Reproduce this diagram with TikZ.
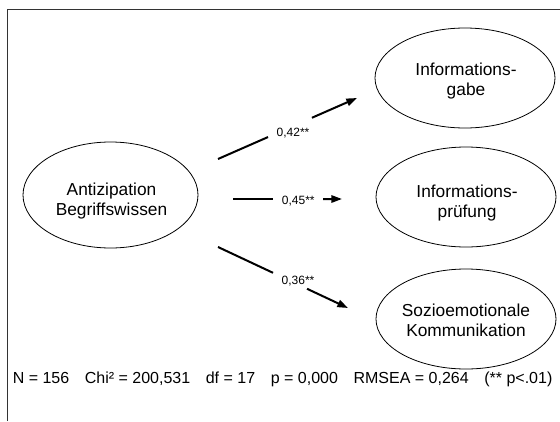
\documentclass[tikz,border=0pt]{standalone}
\usepackage{fontspec}
\setmainfont{Liberation Sans}
\usetikzlibrary{shapes.geometric,arrows.meta,calc}
\begin{document}
\begin{tikzpicture}[x=0.75pt,y=-0.75pt,
  frameline/.style={draw=black!80, line width=0.7pt},
  factor/.style={draw, ellipse, inner sep=0pt, line width=0.6pt},
  leftfactor/.style={factor, minimum width=131.25pt, minimum height=79.5pt},
  rightfactor/.style={factor, minimum width=135pt, minimum height=75pt},
  factortext/.style={align=center, inner sep=0pt, font=\fontsize{13}{15}\selectfont},
  coef/.style={inner sep=0pt, anchor=base, font=\fontsize{9}{10}\selectfont},
  pathline/.style={line width=1.5pt},
  patharrow/.style={pathline, -{Triangle[length=8pt,width=5.5pt]}},
  fitinfo/.style={inner sep=0pt, anchor=base west, font=\fontsize{12}{14}\selectfont}
]
\useasboundingbox (0,0) rectangle (560,421);

% outer frame (left and top edges)
\coordinate (fbl) at (7,421);
\coordinate (ftl) at (7,9);
\coordinate (ftr) at (560,9);
\draw[frameline] (fbl) -- (ftl) -- (ftr);

% latent factors
\node[leftfactor] (src) at (110.5,195) {};
\node[factortext] (srctext) at (111.5,201.3) {Antizipation\\Begriffswissen};

\node[rightfactor] (gabe) at (465,78) {};
\node[factortext] (gabetext) at (466,81.5) {Informations-\\gabe};

\node[rightfactor] (pruef) at (466,197) {};
\node[factortext] (prueftext) at (467,203) {Informations-\\prüfung};

\node[rightfactor] (sozio) at (466,319) {};
\node[factortext] (soziotext) at (466,320) {Sozioemotionale\\Kommunikation};

% path endpoints
\coordinate (a1) at (218,159); \coordinate (b1) at (357,98);
\coordinate (a2) at (233,199); \coordinate (b2) at (342,199);
\coordinate (a3) at (218,247); \coordinate (b3) at (348,308);

% path coefficients
\node[coef] (c1) at (293,136) {0,42**};
\node[coef] (c2) at (298.3,204) {0,45**};
\node[coef] (c3) at (298,284) {0,36**};

% paths, interrupted around their coefficients
\draw[pathline] (a1) -- ($(a1)!0.36!(b1)$);
\draw[patharrow] ($(a1)!0.676!(b1)$) -- (b1);
\draw[pathline] (a2) -- ($(a2)!0.367!(b2)$);
\draw[patharrow] ($(a2)!0.826!(b2)$) -- (b2);
\draw[pathline] (a3) -- ($(a3)!0.423!(b3)$);
\draw[patharrow] ($(a3)!0.685!(b3)$) -- (b3);

% model fit
\node[fitinfo] (fit) at (12.5,383) {N = 156\hspace{11.7pt}Chi² = 200,531\hspace{11.7pt}df = 17\hspace{11.7pt}p = 0,000\hspace{11.7pt}RMSEA = 0,264\hspace{11.7pt}(** p<.01)};
\end{tikzpicture}
\end{document}
